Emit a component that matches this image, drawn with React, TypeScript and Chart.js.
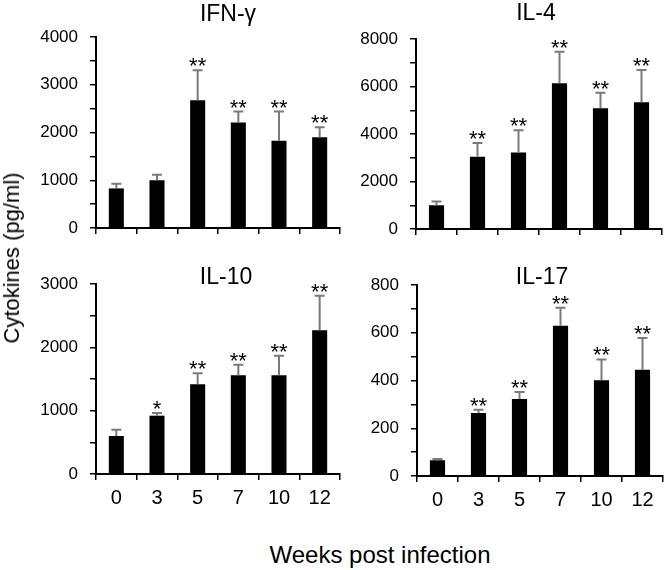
import React, { useEffect, useRef } from 'react';
import { Chart, registerables } from 'chart.js';
Chart.register(...registerables);

const FONT = "'Liberation Sans', Arial, Helvetica, sans-serif";

const weeks = ['0', '3', '5', '7', '10', '12'];

const ifnMean = [829, 1000, 2676, 2209, 1826, 1902];
const ifnSd = [98, 115, 627, 230, 613, 209];
const ifnSig = ['', '', '**', '**', '**', '**'];

const il4Mean = [1000, 3042, 3225, 6141, 5085, 5338];
const il4Sd = [155, 578, 930, 1324, 647, 1352];
const il4Sig = ['', '**', '**', '**', '**', '**'];

const il10Mean = [600, 921, 1416, 1558, 1558, 2268];
const il10Sd = [100, 42, 173, 168, 310, 548];
const il10Sig = ['', '*', '**', '**', '**', '**'];

const il17Mean = [66, 264, 323, 629, 401, 445];
const il17Sd = [5, 13, 29, 76, 87, 133];
const il17Sig = ['', '**', '**', '**', '**', '**'];

type Panel = {
  title: string;
  mean: number[];
  sd: number[];
  sig: string[];
  yMax: number;
  minorStep: number;
  labelStep: number;
  showX: boolean;
  box: { l: number; r: number; t: number; b: number };
  titlePos: { x: number; y: number };
};

const panels: Panel[] = [
  { title: 'IFN-γ', mean: ifnMean, sd: ifnSd, sig: ifnSig, yMax: 4000, minorStep: 500, labelStep: 1000, showX: false,
    box: { l: 96, r: 340, t: 37, b: 228 }, titlePos: { x: 228, y: 15 } },
  { title: 'IL-4', mean: il4Mean, sd: il4Sd, sig: il4Sig, yMax: 8000, minorStep: 1000, labelStep: 2000, showX: false,
    box: { l: 416, r: 662, t: 39, b: 229 }, titlePos: { x: 536, y: 14 } },
  { title: 'IL-10', mean: il10Mean, sd: il10Sd, sig: il10Sig, yMax: 3000, minorStep: 500, labelStep: 1000, showX: true,
    box: { l: 96, r: 340, t: 284, b: 474 }, titlePos: { x: 226, y: 278 } },
  { title: 'IL-17', mean: il17Mean, sd: il17Sd, sig: il17Sig, yMax: 800, minorStep: 100, labelStep: 200, showX: true,
    box: { l: 417, r: 663, t: 285, b: 476 }, titlePos: { x: 542, y: 278 } },
];

const Y_W = 80;
const PAD_T = 40;
const PAD_R = 6;
const X_H = 40;

const errorBarPlugin = {
  id: 'errorBars',
  afterDatasetsDraw(chart: any) {
    const opts = chart.options.plugins.errorBars;
    if (!opts) return;
    const { ctx } = chart;
    const yScale = chart.scales.y;
    const meta = chart.getDatasetMeta(0);
    ctx.save();
    meta.data.forEach((el: any, i: number) => {
      const top = yScale.getPixelForValue(opts.mean[i] + opts.sd[i]);
      const x = el.x;
      ctx.strokeStyle = '#7a7a7a';
      ctx.lineWidth = 2;
      ctx.beginPath();
      ctx.moveTo(x, el.y);
      ctx.lineTo(x, top);
      ctx.moveTo(x - 5, top);
      ctx.lineTo(x + 5, top);
      ctx.stroke();
      const s = opts.sig[i];
      if (s) {
        ctx.fillStyle = '#000';
        ctx.font = `22px ${FONT}`;
        ctx.textAlign = 'center';
        ctx.textBaseline = 'alphabetic';
        ctx.fillText(s, x, top + 3);
      }
    });
    ctx.restore();
  },
};

const panelTitlePlugin = {
  id: 'panelTitle',
  afterDraw(chart: any) {
    const o = chart.options.plugins.panelTitle;
    if (!o) return;
    const { ctx } = chart;
    ctx.save();
    ctx.fillStyle = '#000';
    ctx.font = `23px ${FONT}`;
    ctx.textAlign = 'center';
    ctx.textBaseline = 'middle';
    ctx.fillText(o.text, o.x, o.y);
    ctx.restore();
  },
};

function PanelChart({ p }: { p: Panel }) {
  const ref = useRef<HTMLCanvasElement>(null);
  const left = p.box.l - Y_W;
  const top = p.box.t - PAD_T;
  const width = p.box.r - p.box.l + Y_W + PAD_R;
  const height = p.box.b - p.box.t + PAD_T + X_H;

  useEffect(() => {
    if (!ref.current) return;
    const chart = new Chart(ref.current, {
      type: 'bar',
      data: {
        labels: weeks,
        datasets: [
          {
            data: p.mean,
            backgroundColor: '#000',
            borderWidth: 0,
            barPercentage: 0.37,
            categoryPercentage: 1,
          },
        ],
      },
      options: {
        responsive: false,
        animation: false,
        devicePixelRatio: 1,
        layout: { padding: { top: PAD_T, right: PAD_R, left: 0, bottom: 0 } },
        plugins: {
          legend: { display: false },
          tooltip: { enabled: false },
          title: { display: false },
          errorBars: { mean: p.mean, sd: p.sd, sig: p.sig },
          panelTitle: { text: p.title, x: p.titlePos.x - left, y: p.titlePos.y - top },
        } as any,
        scales: {
          x: {
            ticks: {
              display: true,
              color: '#000',
              font: { size: 20, family: FONT },
              padding: 6,
              maxRotation: 0,
              autoSkip: false,
              callback: (_v: any, i: number) => (p.showX ? weeks[i] : ''),
            },
            grid: {
              drawOnChartArea: false,
              drawTicks: true,
              tickLength: 6,
              color: '#000',
              lineWidth: 1.5,
              offset: true,
            },
            border: { display: true, color: '#000', width: 2 },
            afterFit: (s: any) => {
              s.height = X_H;
            },
          },
          y: {
            min: 0,
            max: p.yMax,
            ticks: {
              stepSize: p.minorStep,
              autoSkip: false,
              color: '#000',
              font: { size: 17, family: FONT },
              padding: 12,
              callback: (v: any) => (Number(v) % p.labelStep === 0 ? String(v) : ''),
            },
            grid: {
              drawOnChartArea: false,
              drawTicks: true,
              tickLength: 6,
              color: '#000',
              lineWidth: 1.5,
            },
            border: { display: true, color: '#000', width: 2 },
            afterFit: (s: any) => {
              s.width = Y_W;
            },
          },
        },
      },
      plugins: [errorBarPlugin, panelTitlePlugin],
    });
    return () => chart.destroy();
  }, []);

  return (
    <canvas
      ref={ref}
      width={width}
      height={height}
      style={{ position: 'absolute', left, top, width, height }}
    />
  );
}

export default function App() {
  return (
    <div style={{ position: 'absolute', left: 0, top: 0, width: 668, height: 570, background: '#fff', overflow: 'hidden' }}>
      {panels.map((p) => (
        <PanelChart key={p.title} p={p} />
      ))}
      <div
        style={{
          position: 'absolute',
          left: 12,
          top: 258,
          transform: 'translate(-50%, -50%) rotate(-90deg)',
          whiteSpace: 'nowrap',
          fontFamily: FONT,
          fontSize: 22,
          color: '#000',
        }}
      >
        Cytokines (pg/ml)
      </div>
      <div
        style={{
          position: 'absolute',
          left: 380,
          top: 555,
          transform: 'translate(-50%, -50%)',
          whiteSpace: 'nowrap',
          fontFamily: FONT,
          fontSize: 24,
          color: '#000',
        }}
      >
        Weeks post infection
      </div>
    </div>
  );
}
